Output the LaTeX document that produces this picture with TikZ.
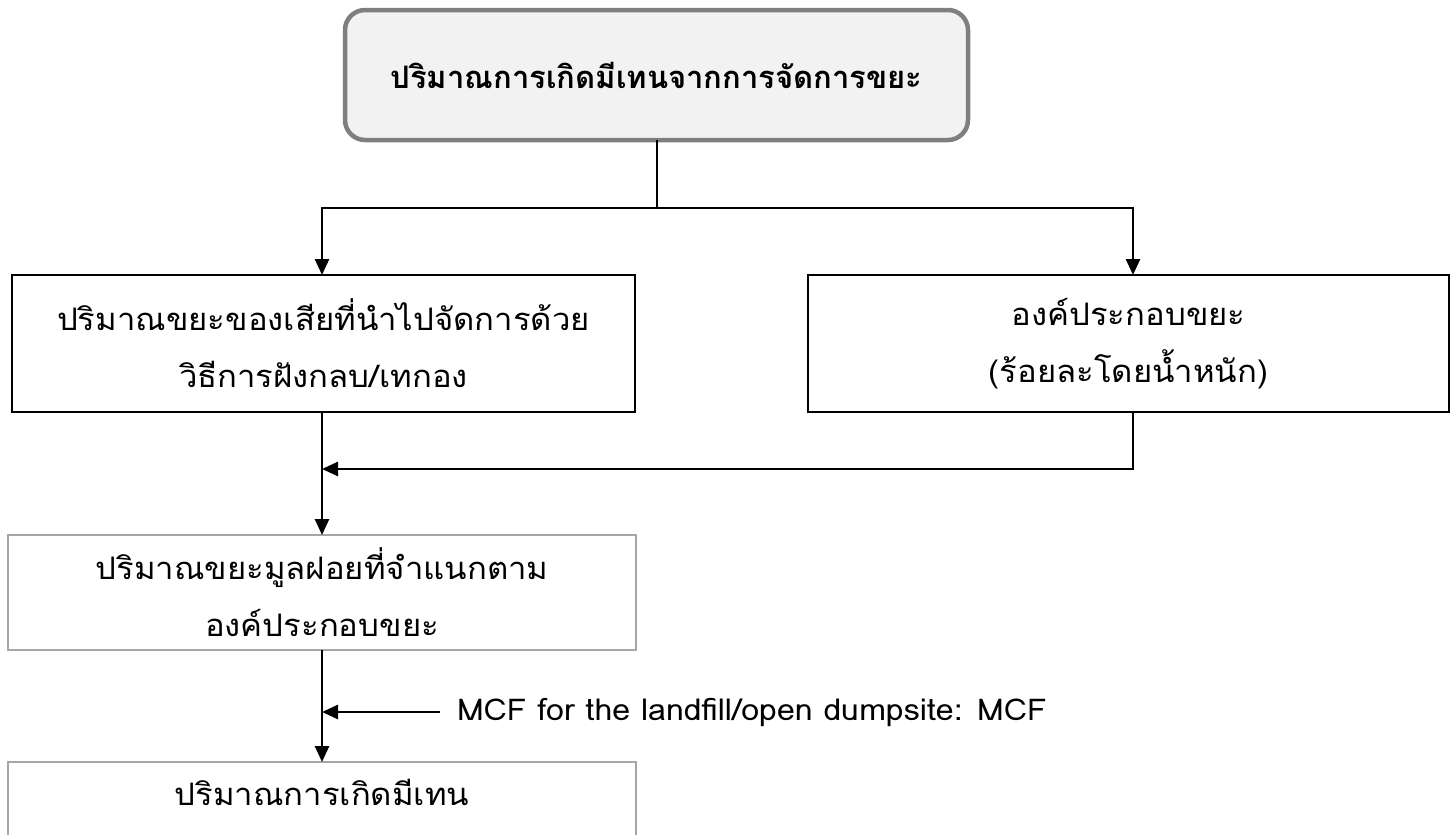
\documentclass[tikz,border=0pt]{standalone}
\usepackage{fontspec}
\usetikzlibrary{arrows.meta}
\newfontfamily\thaifont[Script=Thai,FakeStretch=1.06]{Loma}
\newfontfamily\thaititle[Script=Thai]{Loma}
\newfontfamily\latinfont[FakeStretch=1.07]{Loma}
\definecolor{topfill}{HTML}{F2F2F2}
\definecolor{topdraw}{HTML}{7F7F7F}
\definecolor{lightdraw}{HTML}{A6A6A6}
\tikzset{
  every node/.style={inner sep=0pt, outer sep=0pt},
  txt/.style={font=\thaifont\fontsize{31}{57}\selectfont, align=center},
  topbox/.style={font=\thaititle\bfseries\fontsize{31}{57}\selectfont, align=center, draw=topdraw, fill=topfill, line width=4.5pt, rounded corners=20pt, minimum width=623pt, minimum height=130pt, anchor=north west},
  darkbox/.style={txt, draw=black, line width=2.6pt, anchor=north west},
  lightbox/.style={txt, draw=lightdraw, line width=2pt, anchor=north west},
  conn/.style={line width=2.6pt, draw=black},
  arr/.style={conn, -{Triangle[length=16pt,width=14pt]}},
  lbl/.style={font=\latinfont\fontsize{30}{36}\selectfont, anchor=west}
}
\begin{document}
\begin{tikzpicture}[x=1pt,y=-1pt]
\useasboundingbox (0,0) rectangle (1451,835);
\node[topbox] (top) at (345,10) {ปริมาณการเกิดมีเทนจากการจัดการขยะ};
\node[darkbox, minimum width=623pt, minimum height=137pt] (b1) at (12,275) {ปริมาณขยะของเสียที่นำไปจัดการด้วย\\วิธีการฝังกลบ/เทกอง};
\node[darkbox, minimum width=641pt, minimum height=137pt] (b2) at (808,275) {องค์ประกอบขยะ\\(ร้อยละโดยน้ำหนัก)};
\node[lightbox, minimum width=628pt, minimum height=115pt] (b3) at (8,535) {ปริมาณขยะมูลฝอยที่จำแนกตาม\\องค์ประกอบขยะ};
\node[lightbox, minimum width=628pt, minimum height=100pt] (b4) at (8,762) {};
\node[txt, anchor=base] (b4t) at (322,805) {ปริมาณการเกิดมีเทน};
\coordinate (split) at (657,208);
\coordinate (splitL) at (322,208);
\coordinate (splitR) at (1133,208);
\coordinate (mergeR) at (1133,469);
\coordinate (mergeL) at (322,469);
\coordinate (mcfL) at (322,712);
\node[lbl] (mcf) at (457,712) {MCF for the landfill/open dumpsite: MCF};
\draw[conn] (top.south -| split) -- (split);
\draw[arr] (split) -- (splitL) -- (splitL |- b1.north);
\draw[arr] (split) -- (splitR) -- (splitR |- b2.north);
\draw[arr] (splitR |- b2.south) -- (mergeR) -- (mergeL);
\draw[arr] (mergeL |- b1.south) -- (mergeL |- b3.north);
\draw[arr] (mergeL |- b3.south) -- (mergeL |- b4.north);
\draw[arr] ([xshift=-17pt]mcf.west) -- (mcfL);
\end{tikzpicture}
\end{document}
